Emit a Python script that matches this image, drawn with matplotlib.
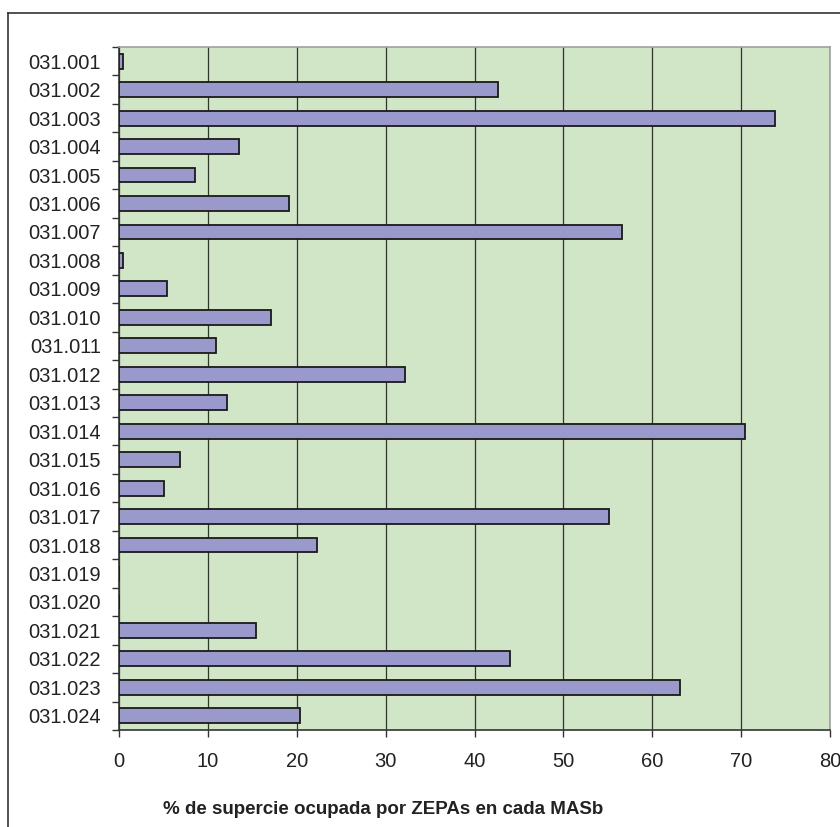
import numpy as np
import matplotlib
matplotlib.use("Agg")
import matplotlib.pyplot as plt
from matplotlib.lines import Line2D

plt.rcParams["font.family"] = ["Liberation Sans", "DejaVu Sans"]

# MASb codes and share of surface covered by ZEPAs (%)
masb = ["031.%03d" % i for i in range(1, 25)]
pct_zepa = [0.4, 42.7, 73.8, 13.5, 8.6, 19.1, 56.6, 0.4,
            5.4, 17.1, 10.9, 32.2, 12.2, 70.4, 6.9, 5.1,
            55.1, 22.3, 0.0, 0.0, 15.4, 44.0, 63.1, 20.4]
xticks = [0, 10, 20, 30, 40, 50, 60, 70, 80]
xlabel = "% de supercie ocupada por ZEPAs en cada MASb"

fig = plt.figure(figsize=(8.4, 8.27), dpi=100)
fig.patch.set_facecolor("white")
ax = fig.add_axes([119 / 840, 1 - 730 / 827, (830 - 119) / 840, (730 - 47) / 827])
ax.set_facecolor("#d0e6c6")

y = np.arange(len(masb))
ax.barh(y, pct_zepa, height=0.52, color="#9999cc", edgecolor="#1a1a1a",
        linewidth=1.3, zorder=3)

ax.set_xlim(0, 80)
ax.set_ylim(len(masb) - 0.5, -0.5)
ax.set_xticks(xticks)
ax.set_xticklabels([str(t) for t in xticks], fontsize=14.5, color="#222222")
ax.xaxis.grid(True, color="#333333", linewidth=0.9, zorder=1)

# category boundary ticks, labels centred on each bar
ax.set_yticks(np.arange(len(masb) + 1) - 0.5)
ax.set_yticklabels([])
ax.set_yticks(y, minor=True)
ax.set_yticklabels(masb, minor=True, fontsize=14.5, color="#222222")
ax.tick_params(axis="y", which="minor", length=0, pad=13)
ax.tick_params(axis="y", which="major", length=5, width=1, color="#333333")
ax.tick_params(axis="x", length=5, width=1, color="#333333", pad=11)

for side in ("top", "right"):
    ax.spines[side].set_color("#a0a0a0")
    ax.spines[side].set_linewidth(1.2)
for side in ("left", "bottom"):
    ax.spines[side].set_color("#333333")
    ax.spines[side].set_linewidth(1.2)

fig.text(383 / 840, 1 - 810 / 827, xlabel, ha="center", va="center",
         fontsize=13.5, fontweight="bold", color="#222222")

# outer chart frame
fig.add_artist(Line2D([8 / 840, 8 / 840], [0, 1 - 13 / 827],
                      transform=fig.transFigure, color="#333333", linewidth=1.2))
fig.add_artist(Line2D([8 / 840, 1], [1 - 13 / 827, 1 - 13 / 827],
                      transform=fig.transFigure, color="#333333", linewidth=1.2))

fig.savefig("out.png", dpi=100)
